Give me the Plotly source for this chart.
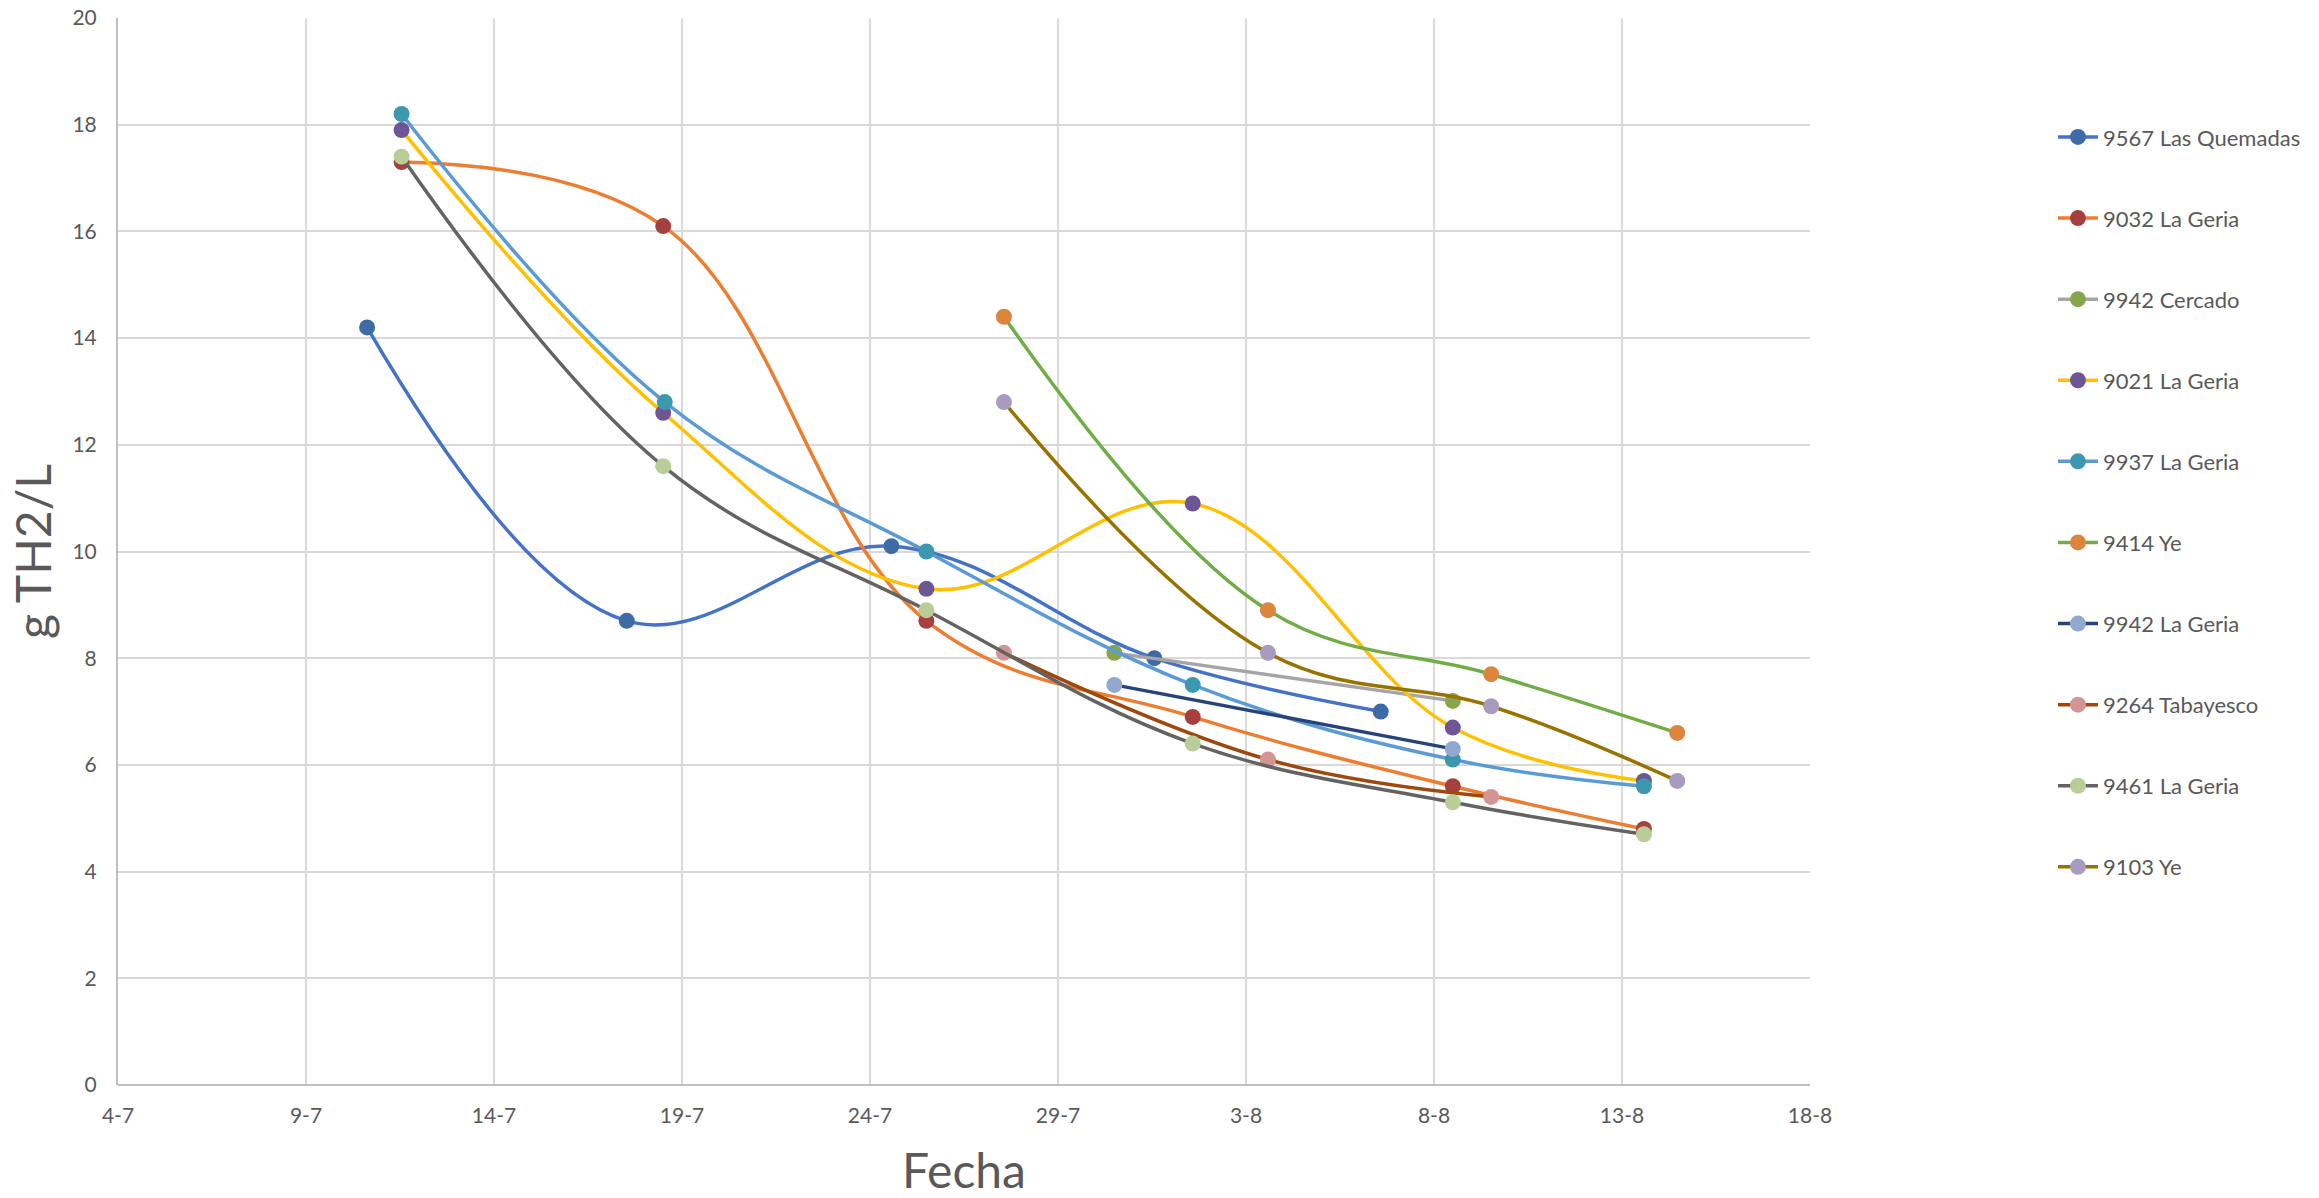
import plotly.graph_objects as go

# Sampling dates and TH2 concentration (g/L) per plot
series_names = [
    "9567 Las Quemadas", "9032 La Geria", "9942 Cercado", "9021 La Geria",
    "9937 La Geria", "9414 Ye", "9942 La Geria", "9264 Tabayesco",
    "9461 La Geria", "9103 Ye",
]

las_quemadas_9567_dates = ["2019-07-10 15:00", "2019-07-17 12:45", "2019-07-24 13:40",
                           "2019-07-31 13:30", "2019-08-06 14:00"]
las_quemadas_9567_vals = [14.2, 8.7, 10.1, 8.0, 7.0]

la_geria_9032_dates = ["2019-07-11 13:00", "2019-07-18 12:00", "2019-07-25 12:00",
                       "2019-08-01 14:00", "2019-08-08 12:00", "2019-08-13 14:00"]
la_geria_9032_vals = [17.3, 16.1, 8.7, 6.9, 5.6, 4.8]

cercado_9942_dates = ["2019-07-30 12:00", "2019-08-08 12:00"]
cercado_9942_vals = [8.1, 7.2]

la_geria_9021_dates = ["2019-07-11 13:00", "2019-07-18 12:00", "2019-07-25 12:00",
                       "2019-08-01 14:00", "2019-08-08 12:00", "2019-08-13 14:00"]
la_geria_9021_vals = [17.9, 12.6, 9.3, 10.9, 6.7, 5.7]

la_geria_9937_dates = ["2019-07-11 13:00", "2019-07-18 13:00", "2019-07-25 12:00",
                       "2019-08-01 14:00", "2019-08-08 12:00", "2019-08-13 14:00"]
la_geria_9937_vals = [18.2, 12.8, 10.0, 7.5, 6.1, 5.6]

ye_9414_dates = ["2019-07-27 13:30", "2019-08-03 14:00", "2019-08-09 12:30", "2019-08-14 11:15"]
ye_9414_vals = [14.4, 8.9, 7.7, 6.6]

la_geria_9942_dates = ["2019-07-30 12:00", "2019-08-08 12:00"]
la_geria_9942_vals = [7.5, 6.3]

tabayesco_9264_dates = ["2019-07-27 13:30", "2019-08-03 14:00", "2019-08-09 12:30"]
tabayesco_9264_vals = [8.1, 6.1, 5.4]

la_geria_9461_dates = ["2019-07-11 13:00", "2019-07-18 12:00", "2019-07-25 12:00",
                       "2019-08-01 14:00", "2019-08-08 12:00", "2019-08-13 14:00"]
la_geria_9461_vals = [17.4, 11.6, 8.9, 6.4, 5.3, 4.7]

ye_9103_dates = ["2019-07-27 13:30", "2019-08-03 14:00", "2019-08-09 12:30", "2019-08-14 11:15"]
ye_9103_vals = [12.8, 8.1, 7.1, 5.7]

series_dates = [las_quemadas_9567_dates, la_geria_9032_dates, cercado_9942_dates,
                la_geria_9021_dates, la_geria_9937_dates, ye_9414_dates,
                la_geria_9942_dates, tabayesco_9264_dates, la_geria_9461_dates,
                ye_9103_dates]
series_vals = [las_quemadas_9567_vals, la_geria_9032_vals, cercado_9942_vals,
               la_geria_9021_vals, la_geria_9937_vals, ye_9414_vals,
               la_geria_9942_vals, tabayesco_9264_vals, la_geria_9461_vals,
               ye_9103_vals]

line_colors = ["#4472C4", "#ED7D31", "#A5A5A5", "#FFC000", "#5B9BD5",
               "#70AD47", "#264478", "#9E480E", "#636363", "#997300"]
marker_colors = ["#3E6BA6", "#A6403F", "#87A54B", "#6E5596", "#3B98AF",
                 "#DC853E", "#92A8CE", "#D39594", "#B8CD97", "#A99BBE"]

FONT = "Lato, 'Open Sans', sans-serif"
TEXT = "#595959"

fig = go.Figure()
for name, xs, ys, lc, mc in zip(series_names, series_dates, series_vals,
                                line_colors, marker_colors):
    fig.add_trace(go.Scatter(
        x=xs, y=ys, name=name, legendgroup=name,
        mode="lines+markers",
        line=dict(color=lc, width=3.5, shape="spline", smoothing=1.1),
        marker=dict(color=mc, size=16, line=dict(width=0)),
    ))

fig.update_layout(
    width=2319, height=1198,
    margin=dict(l=118, r=509, t=18, b=113),
    paper_bgcolor="white", plot_bgcolor="white",
    font=dict(family=FONT, color=TEXT, size=21),
    showlegend=True,
    legend=dict(
        x=1.1436, xanchor="left", y=0.908, yanchor="top",
        font=dict(family=FONT, color=TEXT, size=22),
        tracegroupgap=49.5, itemwidth=40,
        bgcolor="rgba(0,0,0,0)",
    ),
)

fig.update_xaxes(
    type="date",
    range=["2019-07-04", "2019-08-18"],
    tick0="2019-07-04", dtick=5 * 86400000,
    tickformat="%-d-%-m",
    showgrid=True, gridcolor="#D9D9D9", gridwidth=2,
    showline=False, zeroline=False, ticks="",
    automargin=False,
    ticklabelstandoff=16,
    tickfont=dict(size=21, color=TEXT, family=FONT),
    title=dict(text="Fecha", font=dict(size=48, color=TEXT, family=FONT), standoff=33),
)
fig.update_yaxes(
    range=[0, 20], dtick=2,
    showgrid=True, gridcolor="#D9D9D9", gridwidth=2,
    showline=True, linecolor="#BFBFBF", linewidth=2,
    zeroline=True, zerolinecolor="#BFBFBF", zerolinewidth=2,
    ticks="", ticklabelstandoff=15,
    automargin=False,
    tickfont=dict(size=21, color=TEXT, family=FONT),
    title=dict(text="g TH2/L", font=dict(size=48, color=TEXT, family=FONT), standoff=6),
)

fig.write_html("out.html")
